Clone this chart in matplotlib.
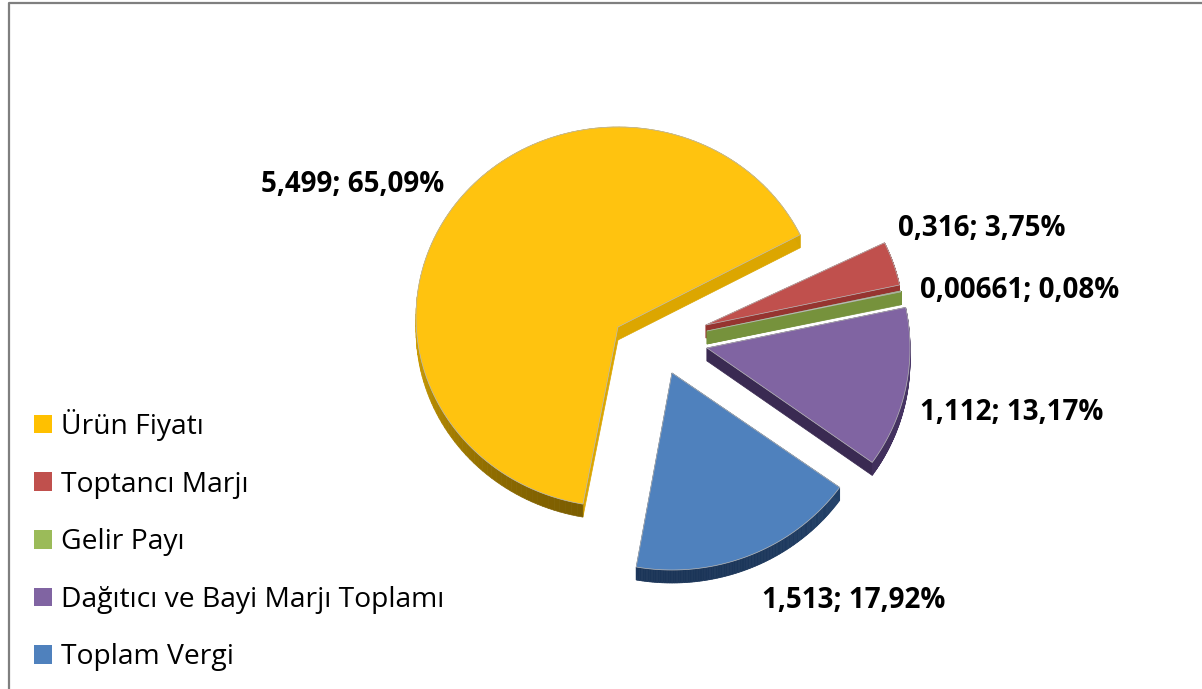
import matplotlib
matplotlib.use("Agg")
import matplotlib.pyplot as plt
from matplotlib.patches import Polygon, Patch
import numpy as np

labels = ["Ürün Fiyatı", "Toptancı Marjı", "Gelir Payı", "Dağıtıcı ve Bayi Marjı Toplamı", "Toplam Vergi"]
values = [5.499, 0.316, 0.00661, 1.112, 1.513]
value_labels = ["5,499; 65,09%", "0,316; 3,75%", "0,00661; 0,08%", "1,112; 13,17%", "1,513; 17,92%"]

legend_colors = ["#FFC000", "#C0504D", "#9BBB59", "#8064A2", "#4F81BD"]
top_colors = ["#FFC30F", "#C0504D", "#76923C", "#8064A2", "#4F81BD"]
cut_colors = ["#DCA600", "#963430", "#76923C", "#3A2A52", "#1F3D63"]
rim_light = ["#D8A500", "#963430", "#76923C", "#4A3768", "#2A5080"]
rim_dark = ["#7A5C00", "#963430", "#76923C", "#3A2A52", "#1B3558"]

# slice placing in pixels: apex x, apex y, x radius, y radius, lift of the rim
apex_x = [618, 706, 707, 707, 672]
apex_y = [327, 325, 331, 348, 373]
radius_x = [202, 198, 198, 203, 206]
radius_y = [190, 190, 190, 197, 197]
lift = [10, 0, 0, 0, 0]
depth = 13

label_x = [353, 982, 1020, 1012, 854]
label_y = [184, 228, 290, 412, 600]

plt.rcParams["font.family"] = ["Open Sans", "DejaVu Sans"]

fig = plt.figure(figsize=(12.02, 6.89), dpi=100)
ax = fig.add_axes([0, 0, 1, 1])
wedges, _ = ax.pie(values, startangle=-100, counterclock=False, radius=1, center=(0, 0))
ax.set_aspect("auto")
ax.set_xlim(0, 1202)
ax.set_ylim(689, 0)
ax.set_axis_off()


def mix(a, b, f):
    ca = np.array(matplotlib.colors.to_rgb(a))
    cb = np.array(matplotlib.colors.to_rgb(b))
    return ca * (1 - f) + cb * f


for i, w in enumerate(wedges):
    w.set_visible(False)
    t = np.radians(np.linspace(w.theta1, w.theta2, 140))
    ax0, ay0 = apex_x[i], apex_y[i]
    xs = ax0 + radius_x[i] * np.cos(t)
    ys = ay0 - radius_y[i] * np.sin(t) - lift[i]

    # cut faces
    for j in [0, -1]:
        face = [(ax0, ay0), (xs[j], ys[j]), (xs[j], ys[j] + depth), (ax0, ay0 + depth)]
        ax.add_patch(Polygon(face, closed=True, fc=cut_colors[i], ec=cut_colors[i], lw=0.5, zorder=2 + i))

    # outer rim
    for j in range(len(t) - 1):
        quad = [(xs[j], ys[j]), (xs[j + 1], ys[j + 1]), (xs[j + 1], ys[j + 1] + depth), (xs[j], ys[j] + depth)]
        f = max(0, -np.sin(t[j]))
        c = mix(rim_light[i], rim_dark[i], f)
        ax.add_patch(Polygon(quad, closed=True, fc=c, ec=c, lw=0.5, zorder=2 + i))

    top = [(ax0, ay0)] + list(zip(xs, ys))
    ax.add_patch(Polygon(top, closed=True, fc=top_colors[i], ec="#B8B8B8", lw=0.5, zorder=2 + i))

    ax.text(label_x[i], label_y[i], value_labels[i], fontsize=20, fontweight="bold",
            ha="center", va="center", color="black", zorder=20)

# chart border
ax.plot([9, 9, 1202], [689, 3, 3], color="#7F7F7F", lw=1.6, zorder=1)

handles = [Patch(fc=c, ec="none") for c in legend_colors]
ax.legend(handles, labels, loc="upper left", bbox_to_anchor=(34 / 1202, 1 - 409 / 689),
          frameon=False, fontsize=20.3, handlelength=0.64, handleheight=0.64,
          handletextpad=0.3, labelspacing=1.05, borderpad=0, borderaxespad=0)

fig.savefig("out.png", dpi=100)
